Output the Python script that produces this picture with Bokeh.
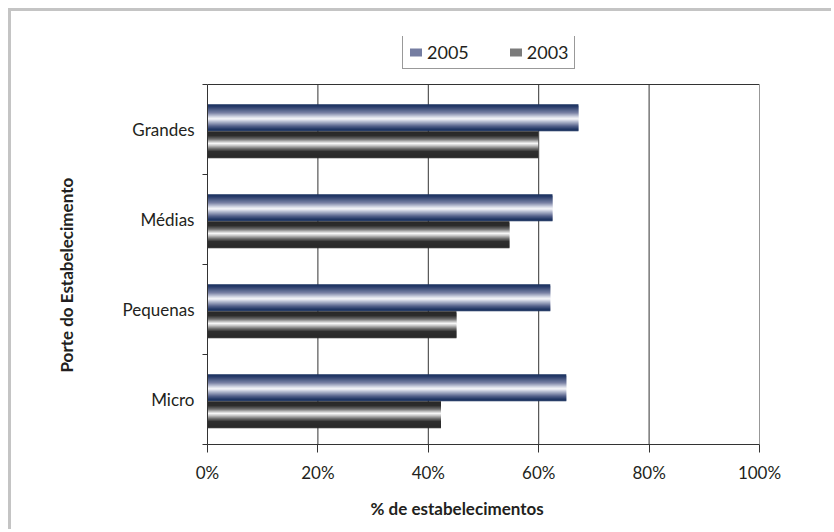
from bokeh.plotting import figure
from bokeh.models import (Range1d, LinearAxis, FixedTicker, Span, Title,
                          PrintfTickFormatter, Legend, LegendItem, ColumnDataSource)
from bokeh.embed import file_html
from bokeh.resources import INLINE

# ---- data ----
categories = ["Micro", "Pequenas", "Médias", "Grandes"]   # bottom -> top
v2005 = [65.0, 62.1, 62.5, 67.2]
v2003 = [42.3, 45.1, 54.7, 59.9]
series_labels = ["2005", "2003"]
x_ticks = [0, 20, 40, 60, 80, 100]
x_title = "% de estabelecimentos"
y_title = "Porte do Estabelecimento"

FONT = "Lato"
TXT = "#231f20"
LINE = "#333333"

n = len(categories)
idx = list(range(n))

# frame is 408px tall; the category area uses the lower 360px, legend sits above it
p = figure(width=823, height=521, y_range=Range1d(0, n * 408 / 360),
           x_range=Range1d(0, 100), y_axis_location=None,
           output_backend="svg", toolbar_location=None,
           min_border_left=196, min_border_right=75, min_border_top=25, min_border_bottom=88)
p.styles = {"border-left": "3px solid #c4c4c4", "border-top": "3px solid #c4c4c4",
            "margin-left": "8px", "margin-top": "8px"}
p.outline_line_color = None
p.background_fill_color = "white"
p.xgrid.grid_line_color = None
p.ygrid.grid_line_color = None

# vertical grid lines (incl. right border) limited to the category area
p.segment(x0=x_ticks[1:], y0=0, x1=x_ticks[1:], y1=n, line_color=LINE, line_width=1)
# top border of the plot area
p.add_layout(Span(location=n, dimension="width", line_color=LINE, line_width=1))

# gradient helpers (style only)
def interp(stops, t):
    for (t0, c0), (t1, c1) in zip(stops[:-1], stops[1:]):
        if t0 <= t <= t1:
            f = 0 if t1 == t0 else (t - t0) / (t1 - t0)
            c = [round(a + (b - a) * f) for a, b in zip(c0, c1)]
            return "#%02x%02x%02x" % tuple(c)
    return "#%02x%02x%02x" % stops[-1][1]

stops05 = [(0, (22, 46, 92)), (0.1, (40, 60, 106)), (0.33, (122, 130, 165)),
           (0.48, (215, 218, 230)), (0.55, (246, 246, 250)), (0.63, (196, 200, 218)),
           (0.82, (84, 96, 138)), (0.93, (34, 54, 100)), (1, (22, 46, 92))]
stops03 = [(0, (40, 40, 40)), (0.17, (44, 44, 44)), (0.3, (110, 110, 110)),
           (0.4, (200, 200, 200)), (0.46, (248, 248, 248)), (0.53, (205, 205, 205)),
           (0.66, (105, 105, 105)), (0.76, (46, 46, 46)), (1, (40, 40, 40))]

H = 0.30
N = 27
bar_specs = [(v2005, 0.13, stops05, "2005"), (v2003, -0.17, stops03, "2003")]
legend_r = {}
for vals, off, stops, key in bar_specs:
    for k in range(N):
        t = (k + 0.5) / N
        o = off + H / 2 - (k + 0.5) * H / N
        hh = H / N * (1.0 if k in (0, N - 1) else 1.8)
        src = ColumnDataSource(dict(y=[i + 0.5 + o for i in idx], v=vals))
        r = p.hbar(y="y", left=0, right="v", height=hh, source=src,
                   fill_color=interp(stops, t), line_color=None)
        if abs(t - 0.3) < 0.02:
            legend_r[key] = r

# x axis
ax = p.xaxis[0]
ax.ticker = FixedTicker(ticks=x_ticks)
ax.formatter = PrintfTickFormatter(format="%d%%")
ax.axis_line_color = LINE
ax.major_tick_line_color = LINE
ax.major_tick_out = 8
ax.major_tick_in = 0
ax.minor_tick_line_color = None
ax.major_label_text_font = FONT
ax.major_label_text_font_size = "17px"
ax.major_label_text_color = TXT
ax.major_label_standoff = 9

# x title (placed like the original, left of the frame centre)
xt = Title(text=x_title, align="left", offset=163, vertical_align="bottom", standoff=21,
           text_font=FONT, text_font_size="17px", text_font_style="bold", text_color=TXT)
p.add_layout(xt, "below")

# y axis: labels at category centres, ticks at category boundaries
ya = LinearAxis(bounds=(0, n))
ya.ticker = FixedTicker(ticks=[i + 0.5 for i in idx], minor_ticks=list(range(n + 1)))
ya.major_label_overrides = {i + 0.5: c for i, c in zip(idx, categories)}
ya.major_tick_in = 0
ya.major_tick_out = 0
ya.minor_tick_in = 0
ya.minor_tick_out = 5
ya.minor_tick_line_color = LINE
ya.axis_line_color = LINE
ya.major_label_text_font = FONT
ya.major_label_text_font_size = "17px"
ya.major_label_text_color = TXT
ya.major_label_standoff = 8
p.add_layout(ya, "left")

# y title, centred on the category area (not on the whole frame)
yt = Title(text=y_title, align="left", offset=72, vertical_align="top", standoff=82,
           text_font=FONT, text_font_size="17px", text_font_style="bold", text_color=TXT)
p.add_layout(yt, "left")

legend = Legend(items=[LegendItem(label=series_labels[0], renderers=[legend_r["2005"]]),
                       LegendItem(label=series_labels[1], renderers=[legend_r["2003"]])],
                location=(195, 375), orientation="horizontal",
                label_text_font=FONT, label_text_font_size="18px", label_text_color=TXT,
                glyph_width=15, glyph_height=10, label_standoff=4, spacing=39,
                padding=5, margin=0, border_line_color=LINE, border_line_width=1,
                background_fill_color="white", background_fill_alpha=1)
p.add_layout(legend)

open("out.html", "w").write(file_html(p, INLINE))
